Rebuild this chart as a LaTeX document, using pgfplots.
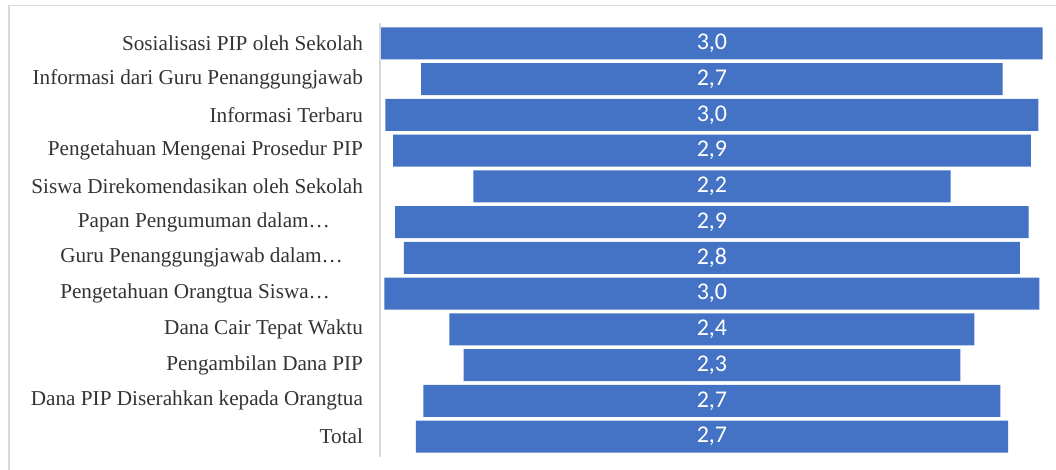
\documentclass[border=0pt]{standalone}
\usepackage{pgfplots}
\pgfplotsset{compat=1.18}
\usepackage{pgfplotstable}
\usepackage{fontspec}
\setmainfont{Liberation Serif}
\newfontfamily\numfont{Carlito}

\definecolor{barblue}{HTML}{4472C4}
\definecolor{framegray}{HTML}{D9D9D9}

% offset = invisible part on the left, value = visible bar
\pgfplotstableread{
row offset value mid label
0  0.005 3.05 1.53 3,0
1  0.19  2.68 1.53 2,7
2  0.025 3.01 1.53 3,0
3  0.06  2.94 1.53 2,9
4  0.43  2.20 1.53 2,2
5  0.07  2.92 1.53 2,9
6  0.11  2.84 1.53 2,8
7  0.02  3.02 1.53 3,0
8  0.32  2.42 1.53 2,4
9  0.385 2.29 1.53 2,3
10 0.20  2.66 1.53 2,7
11 0.165 2.73 1.53 2,7
}\funnel

\pgfplotsset{
  funnelaxis/.style={
    scale only axis, width=333pt, height=217pt,
    at={(190pt,6.5pt)}, anchor=south west,
    xmin=0, xmax=3.07, ymin=-0.57, ymax=11.57, y dir=reverse,
  },
}

\begin{document}
\begin{tikzpicture}
\useasboundingbox (0,0) rectangle (528pt,235pt);
\draw[framegray, line width=0.75pt] (4.5pt,-1pt) -- (4.5pt,232.3pt) -- (529pt,232.3pt);

\begin{axis}[
  funnelaxis,
  xbar stacked, bar width=16pt,
  axis x line=none, axis y line*=left,
  y axis line style={framegray, line width=0.75pt, -},
  major tick length=0,
  ytick={0,...,11},
  yticklabels={
    Sosialisasi PIP oleh Sekolah,
    Informasi dari Guru Penanggungjawab,
    Informasi Terbaru,
    Pengetahuan Mengenai Prosedur PIP,
    Siswa Direkomendasikan oleh Sekolah,
    {Papan Pengumuman dalam…\kern16.5pt},
    {Guru Penanggungjawab dalam…\kern10pt},
    {Pengetahuan Orangtua Siswa…\kern16.5pt},
    Dana Cair Tepat Waktu,
    Pengambilan Dana PIP,
    Dana PIP Diserahkan kepada Orangtua,
    Total},
  yticklabel style={font=\fontsize{10.6}{12}\selectfont, text=black!80, xshift=-5pt},
]
\addplot[draw=none, fill=none] table[x=offset, y=row] {\funnel};
\addplot[fill=barblue, draw=none] table[x=value, y=row] {\funnel};
\end{axis}

\begin{axis}[funnelaxis, hide axis]
\addplot[draw=none, mark=none, nodes near coords, point meta=explicit symbolic,
  nodes near coords style={font=\numfont\fontsize{12}{14}\selectfont, text=white, anchor=center}]
  table[x=mid, y=row, meta=label] {\funnel};
\end{axis}
\end{tikzpicture}
\end{document}
